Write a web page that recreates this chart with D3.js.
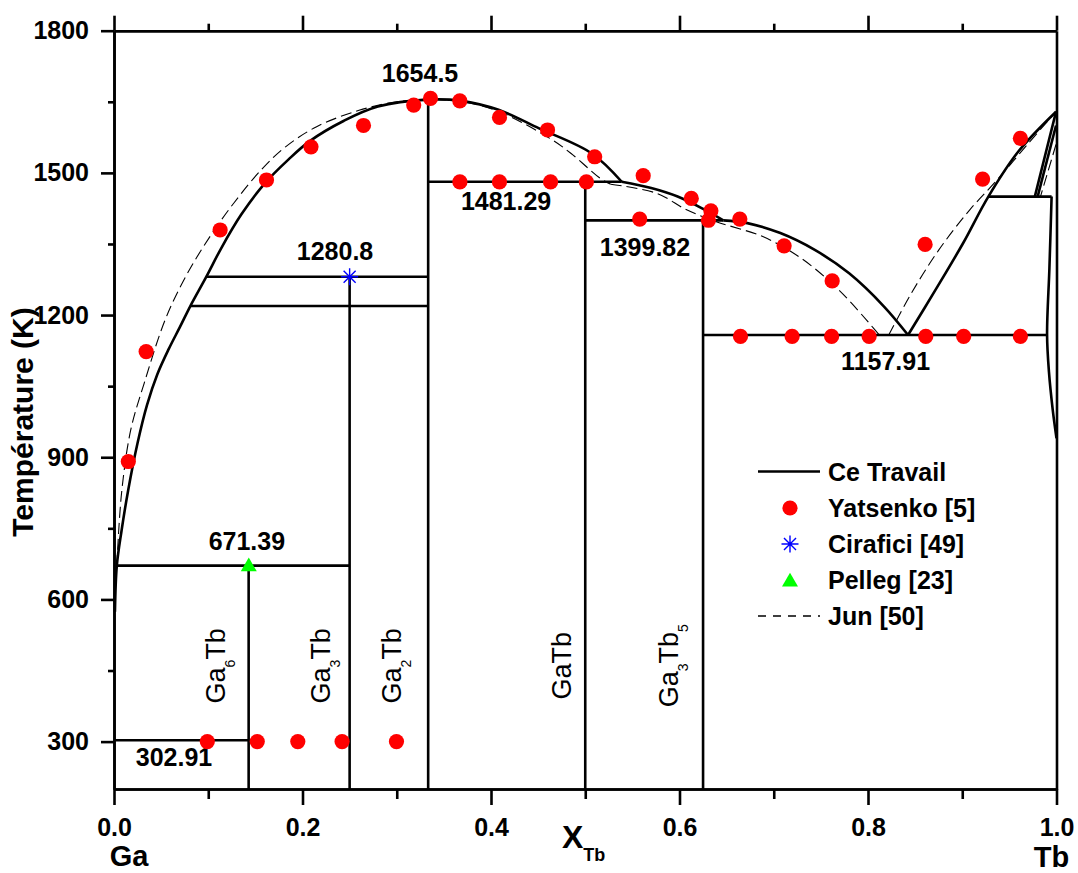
<!DOCTYPE html>
<html>
<head>
<meta charset="utf-8">
<script src="https://cdn.jsdelivr.net/npm/d3@7"></script>
<style>
  html, body { margin: 0; padding: 0; background: #fff; }
  svg { display: block; }
  text { font-family: "Liberation Sans", Arial, sans-serif; fill: #000; }
</style>
</head>
<body>
<svg id="chart" width="1078" height="873"></svg>
<script>
// ---- Ga–Tb phase diagram: composition X(Tb) vs temperature (K) ----

// Axis ticks
const xTicksMajor = [0, 0.2, 0.4, 0.6, 0.8, 1.0];
const xTicksMinor = [0.1, 0.3, 0.5, 0.7, 0.9];
const yTicksMajor = [300, 600, 900, 1200, 1500, 1800];
const yTicksMinor = [450, 750, 1050, 1350, 1650];

// Calculated liquidus (Ce Travail), split at the invariant kinks
const liqGaSide = [[0.001,574],[0.003,671.39],[0.008,745],[0.015,830],[0.025,930],[0.035,1010],
  [0.046,1075],[0.058,1128],[0.070,1175],[0.081,1219],[0.098,1281],[0.114,1342],[0.135,1412],
  [0.160,1478],[0.185,1528],[0.207,1566],[0.244,1610],[0.280,1640],[0.333,1654.5],[0.368,1652],
  [0.408,1633],[0.451,1594],[0.507,1541],[0.5387,1481.29]];
const liqGaTbPeritectic = [[0.5387,1481.29],[0.57,1468],[0.598,1450],[0.625,1424],[0.6465,1399.82]];
const liqEutecticLeft = [[0.6465,1399.82],[0.672,1394],[0.707,1373],[0.744,1337],[0.780,1288],
  [0.817,1218],[0.8425,1157.91]];
const liqTbSide = [[0.8425,1157.91],[0.8716,1253],[0.9007,1351],[0.9277,1450],[0.9595,1545],[0.9995,1629]];

// Tb-rich solid solution boundaries
const tbSolidus1 = [[0.9995,1629],[0.977,1450]];
const tbSolidus2 = [[0.9995,1600],[0.980,1450]];
const tbSolvus = [[0.9948,1450],[0.9925,1300],[0.990,1157.91],[0.992,1080],[0.996,1000],[1.0,940]];

// Invariant reactions (K) with their composition span
const invariants = [
  {T: 302.91,  x1: 0,      x2: 0.1429},
  {T: 671.39,  x1: 0.003,  x2: 0.25},
  {T: 1219,    x1: 0.081,  x2: 0.3333},
  {T: 1280.8,  x1: 0.098,  x2: 0.3333},
  {T: 1481.29, x1: 0.3333, x2: 0.5387},
  {T: 1399.82, x1: 0.5,    x2: 0.6465},
  {T: 1157.91, x1: 0.625,  x2: 0.990},
  {T: 1450,    x1: 0.9277, x2: 0.9948}
];

// Stoichiometric compounds: composition and upper stability temperature
const compoundNames = ["Ga6Tb", "Ga3Tb", "Ga2Tb", "GaTb", "Ga3Tb5"];
const compoundX     = [1/7, 0.25, 1/3, 0.5, 0.625];
const compoundTop   = [671.39, 1280.8, 1654.5, 1481.29, 1399.82];

// Jun [50] assessment (dashed)
const junLeft = [[0.003,671],[0.008,824],[0.0177,957],[0.032,1056],[0.0543,1190],[0.076,1281],
  [0.1016,1365],[0.127,1436],[0.156,1506],[0.182,1555],[0.215,1597.5],[0.26,1632],[0.30,1650],
  [0.335,1655],[0.37,1650],[0.41,1628],[0.463,1572],[0.485,1541],[0.5156,1489],[0.527,1476]];
const junMiddle = [[0.527,1476],[0.5758,1457],[0.6076,1422],[0.639,1397],[0.689,1365],[0.729,1320],
  [0.769,1253],[0.806,1172],[0.812,1158]];
const junRight = [[0.822,1158],[0.846,1246],[0.875,1337],[0.908,1422],[0.937,1485],[0.970,1562],[0.9995,1629]];
const junTb = [[0.9995,1560],[0.983,1450]];

// Experimental data
const yatsenko = [[0.0152,891],[0.0341,1123],[0.1126,1379.5],[0.1618,1485],[0.209,1555],[0.2647,1600],
  [0.318,1643],[0.3358,1657],[0.3669,1652],[0.409,1617],[0.460,1590.5],[0.510,1534],
  [0.367,1481],[0.409,1481],[0.4632,1481],[0.5012,1481],[0.5615,1494],[0.6125,1446],
  [0.6333,1420],[0.6307,1400],[0.5578,1402.6],[0.664,1402.6],[0.711,1346],[0.762,1272],
  [0.8606,1349],[0.9216,1487],[0.9617,1573],
  [0.6647,1155],[0.7195,1155],[0.7614,1155],[0.8012,1155],[0.8613,1155],[0.9015,1155],[0.9617,1155],
  [0.099,300],[0.152,300],[0.195,300],[0.242,300],[0.2997,300]];
const cirafici = [[0.25,1280.8]];
const pelleg = [[0.143,671]];

// Temperature labels of the invariants
const tempLabels = ["1654.5", "1481.29", "1280.8", "1399.82", "1157.91", "671.39", "302.91"];
const tempLabelT = [1654.5, 1481.29, 1280.8, 1399.82, 1157.91, 671.39, 302.91];

// Legend entries
const legendNames = ["Ce Travail", "Yatsenko [5]", "Cirafici [49]", "Pelleg [23]", "Jun [50]"];

// ---------------------------------------------------------------
const svg = d3.select("#chart");
const x = d3.scaleLinear().domain([0, 1]).range([114, 1056.5]);
const y = d3.scaleLinear().domain([200, 1800]).range([789, 30.7]);

const BLACK = "#000";
const LW = 2.6;
const DOT_R = 7.6;

const line = d3.line().x(d => x(d[0])).y(d => y(d[1])).curve(d3.curveCatmullRom.alpha(0.5));
const straight = d3.line().x(d => x(d[0])).y(d => y(d[1]));

const plot = svg.append("g");

// Jun dashed curves
[junLeft, junMiddle, junRight].forEach(seg => {
  plot.append("path").attr("d", line(seg)).attr("fill", "none")
    .attr("stroke", BLACK).attr("stroke-width", 1.1).attr("stroke-dasharray", "11,5");
});
plot.append("path").attr("d", straight(junTb)).attr("fill", "none")
  .attr("stroke", BLACK).attr("stroke-width", 1.1).attr("stroke-dasharray", "11,5");

// Calculated liquidus
[liqGaSide, liqGaTbPeritectic, liqEutecticLeft, liqTbSide].forEach(seg => {
  plot.append("path").attr("d", line(seg)).attr("fill", "none")
    .attr("stroke", BLACK).attr("stroke-width", LW).attr("stroke-linejoin", "round");
});
[tbSolidus1, tbSolidus2].forEach(seg => {
  plot.append("path").attr("d", straight(seg)).attr("fill", "none")
    .attr("stroke", BLACK).attr("stroke-width", LW);
});
plot.append("path").attr("d", line(tbSolvus)).attr("fill", "none")
  .attr("stroke", BLACK).attr("stroke-width", LW);

// Invariant horizontals
plot.selectAll("line.inv").data(invariants).join("line").attr("class", "inv")
  .attr("x1", d => x(d.x1)).attr("x2", d => x(d.x2))
  .attr("y1", d => y(d.T)).attr("y2", d => y(d.T))
  .attr("stroke", BLACK).attr("stroke-width", LW);

// Compound verticals
plot.selectAll("line.cmp").data(compoundX).join("line").attr("class", "cmp")
  .attr("x1", d => x(d)).attr("x2", d => x(d))
  .attr("y1", (d, i) => y(compoundTop[i])).attr("y2", y(200))
  .attr("stroke", BLACK).attr("stroke-width", LW);

// Compound names (rotated, with subscripts)
const cmpLabelX = [0.1178, 0.2292, 0.3041, 0.4849, 0.5980];
const cmpLabelT = 460;
function formulaParts(name) {
  // split "Ga3Tb5" into element / count parts
  const parts = [];
  const re = /([A-Z][a-z]?)(\d*)/g;
  let m;
  while ((m = re.exec(name)) !== null) {
    if (!m[0]) break;
    parts.push({t: m[1], sub: false});
    if (m[2]) parts.push({t: m[2], sub: true});
  }
  return parts;
}
compoundNames.forEach((name, i) => {
  const t = plot.append("text")
    .attr("transform", `translate(${x(cmpLabelX[i])},${y(cmpLabelT)}) rotate(-90)`)
    .attr("text-anchor", "middle").attr("font-size", 27);
  let shifted = false;
  formulaParts(name).forEach(p => {
    const ts = t.append("tspan").text(p.t);
    if (p.sub) { ts.attr("font-size", 14).attr("dy", 10); shifted = true; }
    else if (shifted) { ts.attr("dy", -10); shifted = false; }
  });
});

// Invariant temperature labels
const tempLabelX  = [0.3247, 0.4160, 0.2345, 0.5634, 0.8187, 0.1410, 0.0637];
const tempLabelDy = [-18, 28, -17, 36, 35, -16, 26];
plot.selectAll("text.tl").data(tempLabels).join("text").attr("class", "tl")
  .attr("x", (d, i) => x(tempLabelX[i])).attr("y", (d, i) => y(tempLabelT[i]) + tempLabelDy[i])
  .attr("text-anchor", "middle").attr("font-size", 25).attr("font-weight", "bold")
  .text(d => d);

// Experimental markers
plot.selectAll("circle.yat").data(yatsenko).join("circle").attr("class", "yat")
  .attr("cx", d => x(d[0])).attr("cy", d => y(d[1])).attr("r", DOT_R).attr("fill", "#ff0000");

function asterisk(g, cx, cy, r) {
  const a = r * Math.SQRT1_2;
  const p = `M${cx},${cy - r}L${cx},${cy + r}M${cx - r},${cy}L${cx + r},${cy}` +
            `M${cx - a},${cy - a}L${cx + a},${cy + a}M${cx - a},${cy + a}L${cx + a},${cy - a}`;
  g.append("path").attr("d", p).attr("stroke", "#0000ff").attr("stroke-width", 1.4).attr("fill", "none");
}
cirafici.forEach(d => asterisk(plot, x(d[0]), y(d[1]), 8.5));

function triangle(g, cx, cy, w) {
  const h = w * 0.87;
  g.append("path").attr("d", `M${cx},${cy - h * 0.6}L${cx + w / 2},${cy + h * 0.4}L${cx - w / 2},${cy + h * 0.4}Z`)
    .attr("fill", "#00ff00");
}
pelleg.forEach(d => triangle(plot, x(d[0]), y(d[1]), 16));

// ---- Axes ----
const axisStyle = g => {
  g.selectAll("path.domain").attr("stroke", BLACK).attr("stroke-width", LW);
  g.selectAll(".tick line").attr("stroke", BLACK).attr("stroke-width", LW);
  g.selectAll(".tick text").attr("font-family", "Liberation Sans, Arial, sans-serif")
    .attr("font-size", 25).attr("font-weight", "bold").attr("fill", BLACK);
};

svg.append("g").attr("transform", `translate(${x(0)},0)`)
  .call(d3.axisLeft(y).tickValues(yTicksMajor).tickSize(13).tickPadding(12).tickSizeOuter(0).tickFormat(d3.format("d")))
  .call(axisStyle);
svg.append("g").attr("transform", `translate(${x(0)},0)`)
  .call(d3.axisLeft(y).tickValues(yTicksMinor).tickSize(6).tickSizeOuter(0).tickFormat(""))
  .call(axisStyle);

svg.append("g").attr("transform", `translate(0,${y(200)})`)
  .call(d3.axisBottom(x).tickValues(xTicksMajor).tickSize(16).tickPadding(13).tickSizeOuter(0).tickFormat(d3.format(".1f")))
  .call(axisStyle);
svg.append("g").attr("transform", `translate(0,${y(200)})`)
  .call(d3.axisBottom(x).tickValues(xTicksMinor).tickSize(10).tickSizeOuter(0).tickFormat(""))
  .call(axisStyle);

svg.append("g").attr("transform", `translate(0,${y(1800)})`)
  .call(d3.axisTop(x).tickValues(xTicksMajor).tickSize(15).tickSizeOuter(0).tickFormat(""))
  .call(axisStyle);
svg.append("g").attr("transform", `translate(0,${y(1800)})`)
  .call(d3.axisTop(x).tickValues(xTicksMinor).tickSize(7).tickSizeOuter(0).tickFormat(""))
  .call(axisStyle);

svg.append("g").attr("transform", `translate(${x(1)},0)`)
  .call(d3.axisRight(y).tickValues([]).tickSizeOuter(0))
  .call(axisStyle);

// Axis titles
svg.append("text").attr("transform", "translate(33,422) rotate(-90)")
  .attr("text-anchor", "middle").attr("font-size", 30).attr("font-weight", "bold")
  .text("Température (K)");

const xt = svg.append("text").attr("x", 562).attr("y", 848).attr("font-weight", "bold");
xt.append("tspan").attr("font-size", 32).text("X");
xt.append("tspan").attr("font-size", 18).attr("dy", 13).text("Tb");

svg.append("text").attr("x", x(0) + 15).attr("y", 866).attr("text-anchor", "middle")
  .attr("font-size", 29).attr("font-weight", "bold").text("Ga");
svg.append("text").attr("x", x(1) - 5).attr("y", 867).attr("text-anchor", "middle")
  .attr("font-size", 29).attr("font-weight", "bold").text("Tb");

// ---- Legend ----
const lg = svg.append("g");
const lgRowY = [471.5, 508, 544, 580, 616];
const lgSymX = 790, lgTextX = 828;
lg.append("line").attr("x1", 758).attr("x2", 820).attr("y1", lgRowY[0]).attr("y2", lgRowY[0])
  .attr("stroke", BLACK).attr("stroke-width", LW);
lg.append("circle").attr("cx", lgSymX).attr("cy", lgRowY[1]).attr("r", DOT_R).attr("fill", "#ff0000");
asterisk(lg, lgSymX, lgRowY[2], 8.5);
triangle(lg, lgSymX, lgRowY[3] + 1, 16);
lg.append("line").attr("x1", 758).attr("x2", 820).attr("y1", lgRowY[4]).attr("y2", lgRowY[4])
  .attr("stroke", BLACK).attr("stroke-width", 1.3).attr("stroke-dasharray", "8,7");
lg.selectAll("text").data(legendNames).join("text")
  .attr("x", lgTextX).attr("y", (d, i) => lgRowY[i] + 9)
  .attr("font-size", 25).attr("font-weight", "bold").text(d => d);
</script>
</body>
</html>
